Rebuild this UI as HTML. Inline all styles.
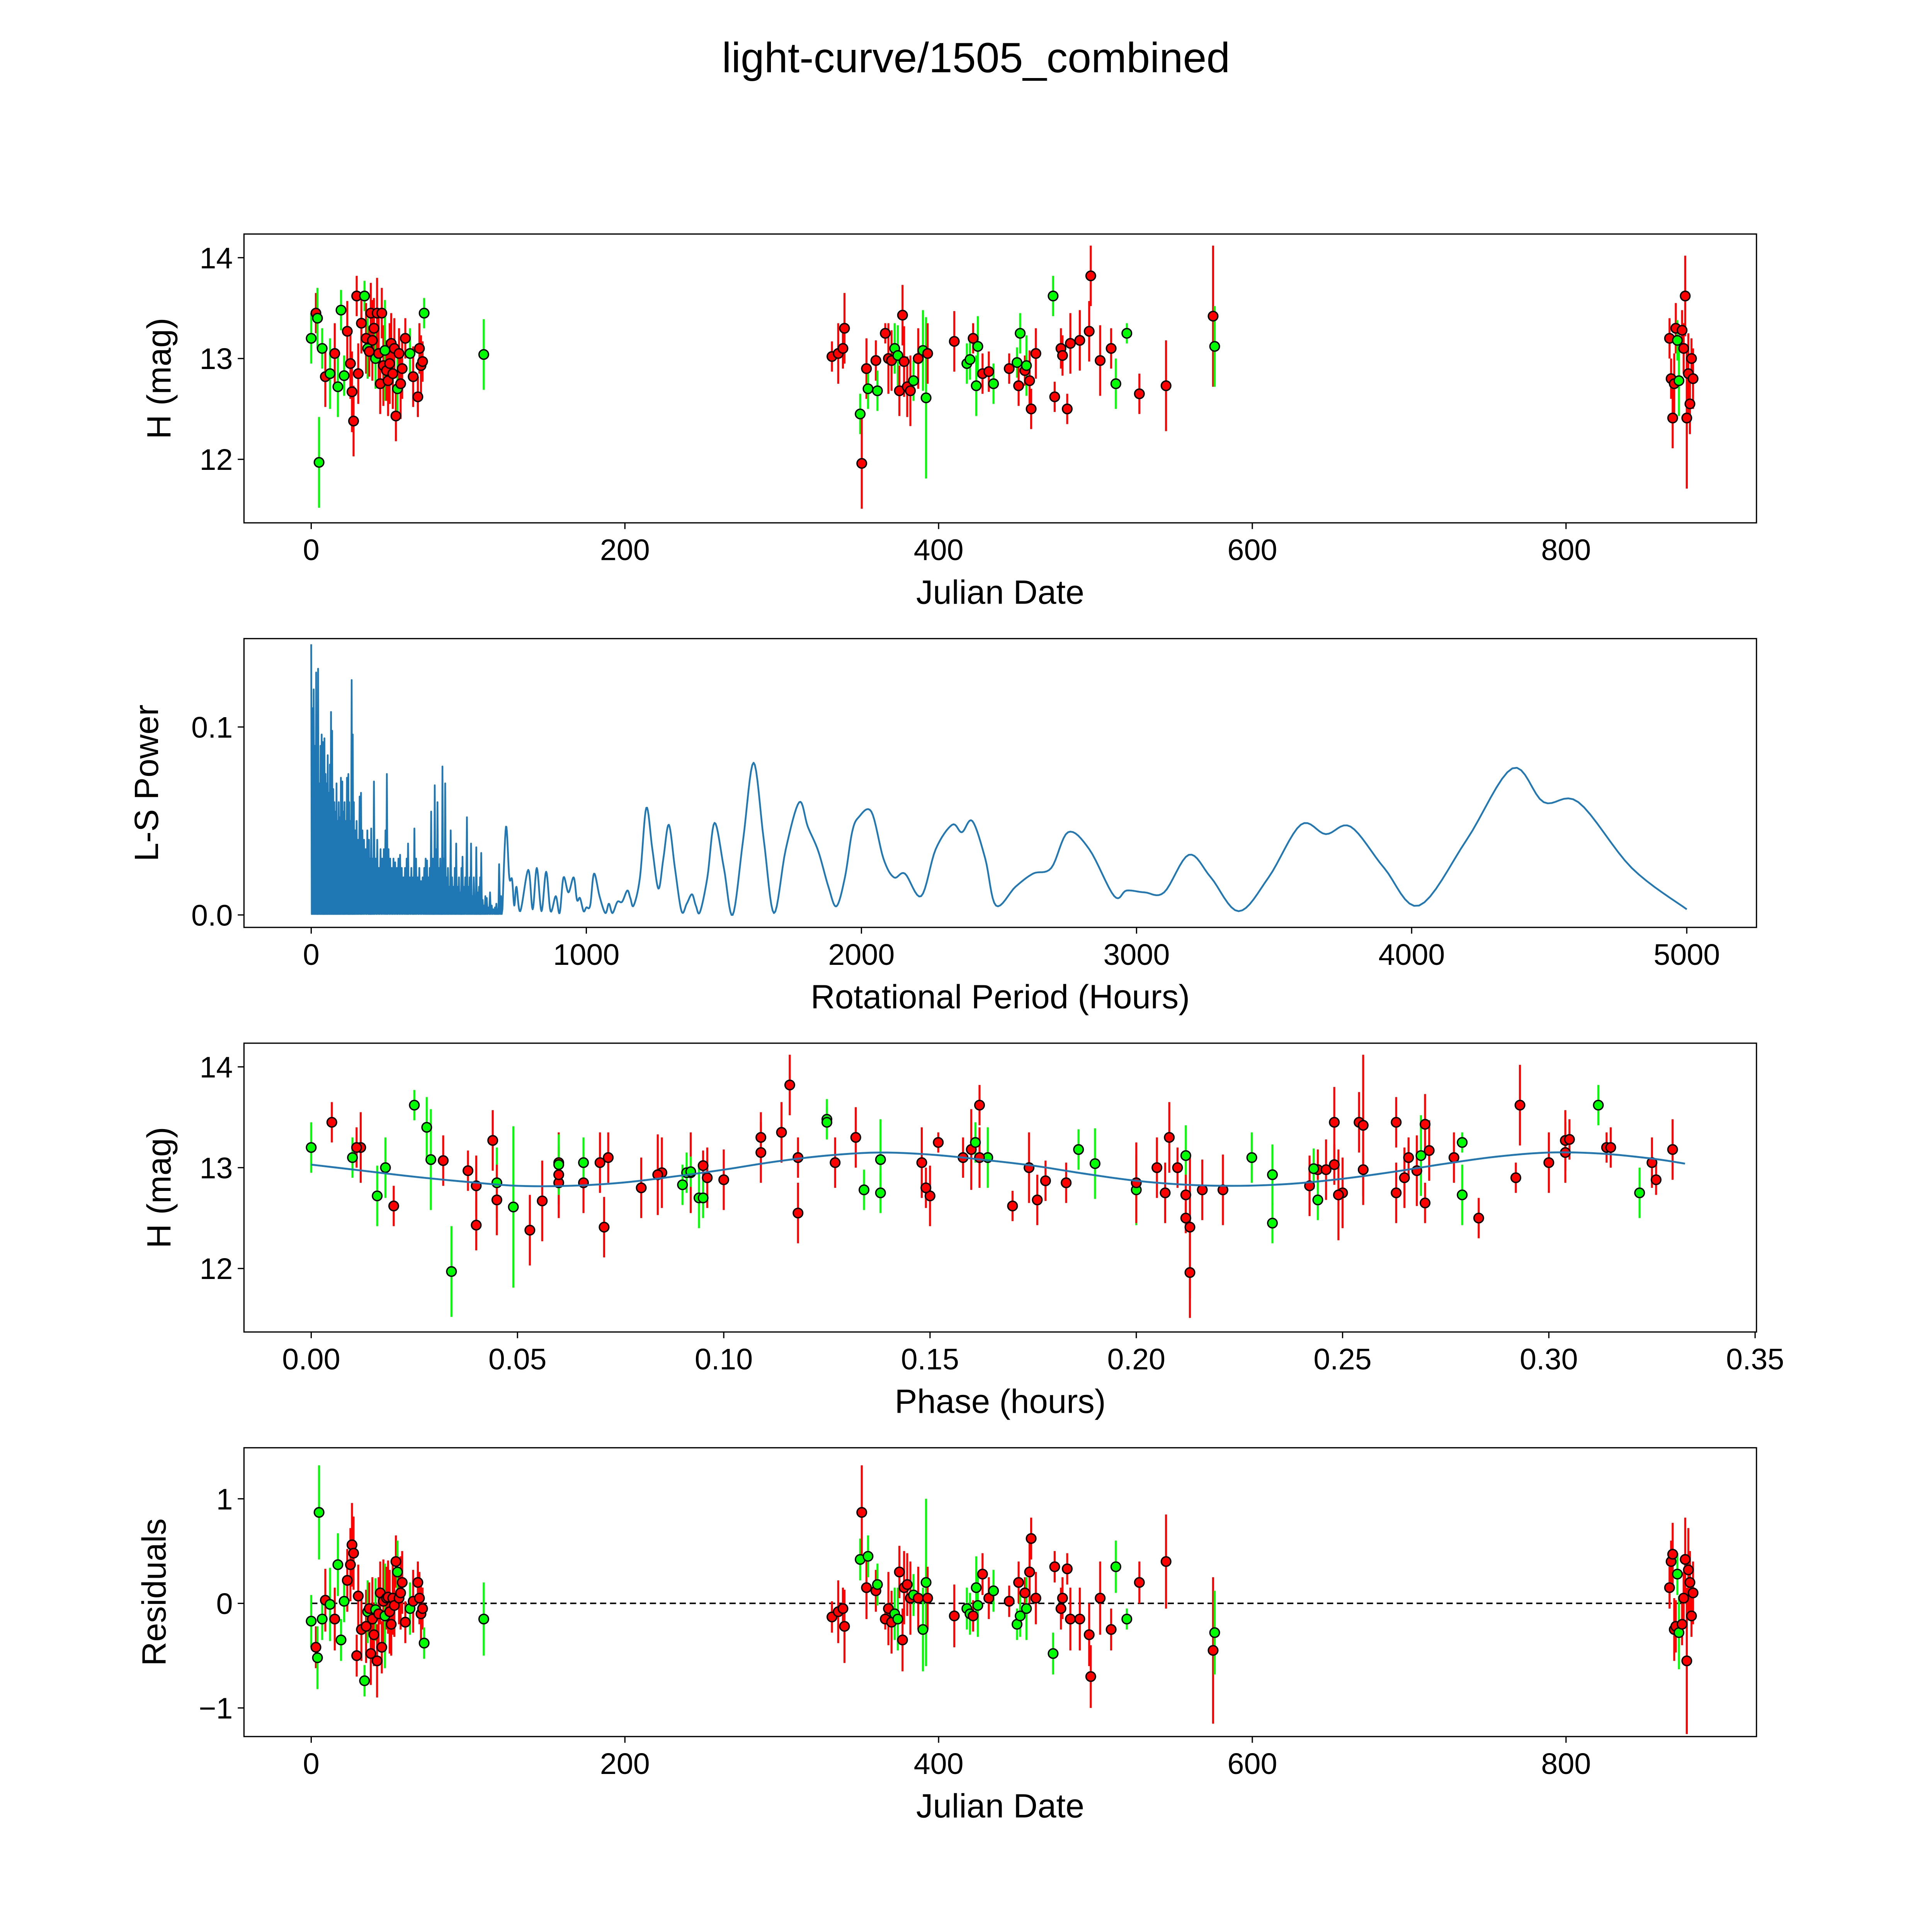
<!DOCTYPE html>
<html><head><meta charset="utf-8"><style>
html,body{margin:0;padding:0;background:#fff;overflow:hidden;width:100%;height:100%}
svg{display:block;width:100vw;height:100vh}
text{font-family:"Liberation Sans","DejaVu Sans",sans-serif;fill:#000}
</style></head><body>
<svg id="fig" xmlns="http://www.w3.org/2000/svg" viewBox="0 0 1552 1552" preserveAspectRatio="none">
<rect x="0" y="0" width="1552" height="1552" fill="#fff"/>
<text x="784" y="58" font-size="34" text-anchor="middle">light-curve/1505_combined</text>
</svg>
<script>
// ---- observation data ----
const obsDate = [0,3,4,5,7,9,12,15,17,19, 21,23,25,26,27,29,30,32,34,35, 36,37,38,39,40,41,42,43,44,45, 46,47,48,49,50,51,52,53,54,55,
56,57,58,60,63,65,68,69,70,71, 72,110,332,336,339,340,350,351,354,355, 360,361,366,368,370,372,374,375,377,378, 380,382,384,387,390,392,393,410,418,420,
422,424,425,428,432,435,445,450,451,452, 455,456,458,459,462,473,474,478,479,482, 484,490,496,497,503,510,513,520,528,545, 575,576,866,867,868,869,870,871,872,874, 875,876,877,878,879,880,881];
const obsMag = [13.2,13.45,13.4,11.97,13.1,12.82,12.85,13.05,12.72,13.48, 12.83,13.27,12.95,12.67,12.38,13.62,12.85,13.35,13.62,13.2, 13.1,13.07,13.45,13.18,13.3,13.0,13.45,13.05,12.75,13.45, 12.93,13.08,12.88,12.78,12.95,13.15,12.85,13.1,12.43,12.7,
13.05,12.75,12.9,13.2,13.05,12.82,12.62,13.1,12.93,12.97, 13.45,13.04,13.02,13.05,13.1,13.3,12.45,11.96,12.9,12.7, 12.98,12.68,13.25,13.0,12.98,13.1,13.03,12.68,13.43,12.97, 12.72,12.68,12.78,13.0,13.08,12.61,13.05,13.17,12.95,12.99,
13.2,12.73,13.12,12.85,12.87,12.75,12.9,12.96,12.73,13.25, 12.88,12.93,12.78,12.5,13.05,13.62,12.62,13.1,13.03,12.5, 13.15,13.18,13.27,13.82,12.98,13.1,12.75,13.25,12.65,12.73, 13.42,13.12,13.2,12.8,12.41,12.75,13.3,13.18,12.78,13.28, 13.1,13.62,12.41,12.85,12.55,13.0,12.8];
const obsErr = [.25,.2,.3,.45,.2,.3,.35,.3,.3,.2, .2,.3,.35,.4,.35,.2,.3,.3,.15,.35, .3,.25,.3,.4,.3,.3,.35,.35,.3,.25, .4,.5,.3,.35,.4,.3,.35,.3,.25,.3,
.25,.35,.3,.2,.25,.3,.2,.25,.3,.2, .15,.35,.15,.3,.2,.35,.2,.45,.3,.2, .2,.2,.1,.35,.3,.25,.3,.25,.3,.35, .3,.35,.2,.3,.4,.8,.3,.3,.2,.2,
.15,.3,.3,.2,.2,.2,.15,.15,.2,.2, .15,.3,.3,.2,.25,.2,.15,.2,.2,.15, .3,.3,.3,.3,.35,.2,.25,.1,.2,.45, .7,.4,.2,.2,.3,.3,.25,.2,.35,.2, .25,.4,.7,.4,.3,.2,.3];
const obsBand = ("grgggrgrgg"+"grrrrrrrgr"+"grrrrgrrrr"+"rgrrrrrrrg"+"rrrrgrrrrr"+"ggrrrrgrrg"+"rgrrrggrrr"+"rrgrggrrgg"+"rggrrgrgrg"+"rgrrrgrrrr"+"rrrrrrggrr"+"rgrrrrrggr"+"rrrrrrr").split("");
const obsPhase = [.000,.005,.028,.034,.010,.040,.045,.060,.016,.125, .090,.044,.085,.056,.053,.162,.066,.114,.025,.012, .164,.032,.254,.160,.132,.018,.248,.148,.207,.263, .084,.029,.100,.221,.092,.109,.060,.162,.040,.094,
.127,.250,.096,.011,.066,.242,.020,.072,.060,.038, .125,.190,.095,.070,.266,.208,.233,.213,.265,.095, .244,.244,.152,.174,.246,.228,.060,.176,.270,.268, .150,.045,.134,.205,.138,.049,.300,.271,.091,.243,
.314,.279,.212,.183,.178,.138,.292,.092,.212,.161, .326,.233,.216,.283,.325,.312,.170,.118,.248,.212, .304,.330,.304,.116,.255,.158,.322,.279,.270,.249, .255,.269,.315,.149,.071,.263,.109,.186,.200,.305, .277,.293,.213,.200,.118,.210,.080];
const obsResid = [-.17,-.42,-.52,.87,-.15,.03,-.01,-.15,.37,-.35, .02,.22,.37,.56,.48,-.5,.07,-.25,-.74,-.22, -.08,-.05,-.48,-.15,-.3,-.06,-.55,-.1,.1,-.42, .02,-.12,.05,.06,-.08,-.2,.05,-.02,.4,.3,
.05,.1,.2,-.18,-.05,.02,.2,.05,-.1,-.05, -.38,-.15,-.13,-.08,-.05,-.22,.42,.87,.15,.45, .12,.18,-.15,-.05,-.18,-.1,-.15,.3,-.35,.15, .18,.05,.08,.05,-.25,.2,.05,-.12,-.05,-.1,
-.12,.15,-.02,.28,.05,.12,.02,-.2,.2,-.12, .1,-.05,.3,.62,.05,-.48,.35,-.05,.05,.33, -.15,-.15,-.3,-.7,.05,-.25,.35,-.15,.2,.4, -.45,-.28,.15,.4,.47,-.25,-.22,.28,-.28,-.2, .05,.42,-.55,.32,.2,-.12,.1];

// ---- periodogram data ----
const spikePeriod = [0,4,9,13,18,22,25,30,34,38, 42,45,48,52,56,60,64,68,72,76, 80,84,88,92,96,100,104,108,113,117, 121,125,130,135,138,142,147,151,155,160,
165,170,176,181,186,192,198,204,210,214, 218,223,228,234,240,246,252,258,264,270, 275,281,287,293,299,305,311,317,323,329, 335,341,347,352,358,364,370,375,381,387,
393,399,405,411,416,421,426,431,436,441, 445,449,454,459,464,469,473,477,482,487, 492,497,502,507,512,517,522,527,532,537, 542,546,550,555,560,566,571,576,581,586,
591,596,600,605,610,614,618,623,628,633, 638,644,650,656,662,668,673,678,683,690];
const spikePower = [.144,.11,.12,.09,.129,.085,.131,.07,.09,.096, .092,.08,.094,.075,.07,.085,.065,.08,.108,.098, .067,.06,.055,.07,.05,.06,.052,.073,.071,.055, .06,.05,.073,.075,.06,.05,.125,.096,.06,.045,
.05,.04,.063,.065,.045,.04,.035,.045,.04,.03, .046,.03,.071,.03,.04,.025,.035,.03,.035,.045, .075,.035,.03,.025,.03,.028,.025,.03,.032,.025, .02,.025,.03,.038,.02,.025,.02,.046,.03,.02,
.025,.018,.02,.025,.03,.029,.02,.025,.055,.03, .03,.069,.035,.06,.025,.03,.02,.079,.03,.07, .02,.025,.015,.045,.02,.015,.025,.038,.015,.02, .012,.025,.031,.015,.02,.052,.015,.02,.038,.01,
.02,.01,.036,.012,.015,.02,.033,.008,.005,.01, .009,.004,.012,.005,.003,.004,.006,.003,.027,.01];
const smoothPeriod = [695,708,720,730,738,746,760,789,805,820, 837,854,870,889,903,917,935,954,966,977, 990,1000,1014,1028,1048,1069,1082,1095,1113,1130, 1149,1160,1172,1195,1218,1240,1262,1280,1300,1322,
1346,1365,1384,1398,1413,1440,1466,1500,1532,1570, 1608,1645,1682,1725,1774,1805,1843,1880,1909,1940, 1966,1990,2036,2080,2118,2158,2217,2270,2330,2365, 2403,2450,2489,2560,2624,2690,2751,2828,2919,2964,
3030,3100,3190,3270,3371,3480,3597,3688,3778,3900, 4027,4200,4366,4480,4606,4800,5000];
const smoothPower = [.003,.047,.02,.019,.005,.015,.002,.024,.003,.025, .002,.023,.002,.01,.001,.02,.012,.02,.008,.009, .002,.004,.005,.022,.01,.001,.006,.001,.007,.007, .013,.009,.005,.02,.057,.035,.014,.03,.048,.025,
.002,.006,.011,.005,.0015,.02,.049,.025,0,.04, .081,.04,.001,.035,.06,.047,.034,.015,.0046,.02, .044,.052,.055,.03,.02,.022,.01,.035,.048,.044, .05,.03,.005,.015,.022,.025,.044,.035,.01,.013,
.012,.012,.032,.02,.002,.02,.048,.043,.047,.025, .005,.04,.078,.06,.06,.025,.003];

// ---- fit curve ----
const fitPhase = [0,.0125,.025,.0375,.05,.0625,.075,.0875,.1,.1125,.125,.1375,.15,.1625,.175,.1875,.2,.2125,.225,.2375,.25,.2625,.275,.2875,.3,.3125,.325,.333];
const fitMag = [13.03,12.97,12.91,12.86,12.82,12.82,12.85,12.91,12.98,13.06,13.12,13.15,13.13,13.08,13.02,12.94,12.87,12.83,12.82,12.84,12.89,12.96,13.04,13.11,13.15,13.14,13.09,13.04];

// ---- tick labels ----
const dateTicks = [0,200,400,600,800];
const magTicks = [14,13,12];
const periodTicks = [0,1000,2000,3000,4000,5000];
const powerTicks = [0.0,0.1];
const phaseTicks = [0,0.05,0.1,0.15,0.2,0.25,0.3,0.35];
const residTicks = [1,0,-1];

const NS="http://www.w3.org/2000/svg";
const svg=document.getElementById('fig');
function el(tag,attrs,parent){const e=document.createElementNS(NS,tag);for(const k in attrs)e.setAttribute(k,attrs[k]);(parent||svg).appendChild(e);return e;}
function txt(s,attrs,parent){const e=el('text',attrs,parent);e.textContent=s;return e;}

const L=196,R=1411;
const panels=[{t:188,b:420},{t:513,b:745},{t:838,b:1070},{t:1163,b:1395}];
const xDate=d=>250+d*1.26;
const xPer=p=>250+p*0.221;
const xPh=ph=>250+ph*3314;
const yMag1=m=>288-(m-13)*81;
const yMag3=m=>938-(m-13)*81;
const yPow=v=>735-v*1510;
const yRes=r=>1288-r*84;

function frame(i,name){
  const g=el('g',{});
  
  
  return g;
}
function border(g,i){
  const p=panels[i];
  const r=el('rect',{x:L,y:p.t,width:R-L,height:p.b-p.t,fill:'none',stroke:'#000','stroke-width':1},g);
  
  
}
function xticks(g,i,vals,fx,fmt){
  const p=panels[i];
  vals.forEach(v=>{
    const x=fx(v);
    el('line',{x1:x,x2:x,y1:p.b,y2:p.b+5,stroke:'#000','stroke-width':1},g);
    const t=txt(fmt(v),{x:x,y:p.b+30,'font-size':24,'text-anchor':'middle'},g);
    
    
  });
}
function yticks(g,i,vals,fy,fmt){
  vals.forEach(v=>{
    const y=fy(v);
    el('line',{x1:L-5,x2:L,y1:y,y2:y,stroke:'#000','stroke-width':1},g);
    const t=txt(fmt(v),{x:L-9,y:y+8.5,'font-size':24,'text-anchor':'end'},g);
    
    
  });
}
function labels(g,i,xl,yl,yx){
  const p=panels[i];
  const a=txt(xl,{x:(L+R)/2,y:p.b+65,'font-size':27,'text-anchor':'middle'},g);
  
  
  const cy=(p.t+p.b)/2;
  const b=txt(yl,{x:yx,y:cy,'font-size':27,'text-anchor':'middle',transform:`rotate(-90 ${yx} ${cy})`},g);
  
  
}
const col=b=>b==='g'?'#00ff00':'#ff0000';
function points(g,xs,ys,errs,fx,fy){
  const eg=el('g',{},g);
  xs.forEach((xv,k)=>{
    const x=fx(xv);
    const ln=el('line',{x1:x,x2:x,y1:fy(ys[k]+errs[k]),y2:fy(ys[k]-errs[k]),stroke:col(obsBand[k]),'stroke-width':1.6},eg);
    
    
  });
  xs.forEach((xv,k)=>{
    const c=el('circle',{cx:fx(xv),cy:fy(ys[k]),r:3.8,fill:col(obsBand[k]),stroke:'#000','stroke-width':1.1},eg);
    
    
  });
}
function catmull(pts,steps){
  const out=[];
  for(let i=0;i<pts.length-1;i++){
    const p0=pts[Math.max(0,i-1)],p1=pts[i],p2=pts[i+1],p3=pts[Math.min(pts.length-1,i+2)];
    for(let s=0;s<steps;s++){
      const t=s/steps,t2=t*t,t3=t2*t;
      const f=(a,b,c,d)=>0.5*((2*b)+(-a+c)*t+(2*a-5*b+4*c-d)*t2+(-a+3*b-3*c+d)*t3);
      out.push([f(p0[0],p1[0],p2[0],p3[0]),f(p0[1],p1[1],p2[1],p3[1])]);
    }
  }
  out.push(pts[pts.length-1]);
  return out;
}

// Panel 1
let g=frame(0,'light-curve-panel');
border(g,0);
xticks(g,0,dateTicks,xDate,v=>String(v));
yticks(g,0,magTicks,yMag1,v=>String(v));
labels(g,0,'Julian Date','H (mag)',137);
points(g,obsDate,obsMag,obsErr,xDate,yMag1);

// Panel 2
g=frame(1,'periodogram-panel');
border(g,1);
xticks(g,1,periodTicks,xPer,v=>String(v));
yticks(g,1,powerTicks,yPow,v=>v.toFixed(1));
labels(g,1,'Rotational Period (Hours)','L-S Power',127);
{
  let d='';
  spikePeriod.forEach((p,k)=>{
    d+=(k===0?'M':'L')+xPer(p).toFixed(2)+' '+yPow(spikePower[k]).toFixed(2)+' ';
    const nx=k<spikePeriod.length-1?spikePeriod[k+1]:smoothPeriod[0];
    d+='L'+xPer((p+nx)/2).toFixed(2)+' '+yPow(0.0005).toFixed(2)+' ';
  });
  const sp=catmull(smoothPeriod.map((p,k)=>[p,smoothPower[k]]),8);
  sp.forEach(q=>{d+='L'+xPer(q[0]).toFixed(2)+' '+yPow(Math.max(0,q[1])).toFixed(2)+' ';});
  const path=el('path',{d:d,fill:'none',stroke:'#1f77b4','stroke-width':1.4,'stroke-linejoin':'round'},g);
  
  
}

// Panel 3
g=frame(2,'phase-folded-panel');
border(g,2);
xticks(g,2,phaseTicks,xPh,v=>v.toFixed(2));
yticks(g,2,magTicks,yMag3,v=>String(v));
labels(g,2,'Phase (hours)','H (mag)',137);
points(g,obsPhase,obsMag,obsErr,xPh,yMag3);
{
  const fp=catmull(fitPhase.map((p,k)=>[p,fitMag[k]]),6);
  let d='';
  fp.forEach((q,k)=>{d+=(k?'L':'M')+xPh(q[0]).toFixed(2)+' '+yMag3(q[1]).toFixed(2)+' ';});
  const path=el('path',{d:d,fill:'none',stroke:'#1f77b4','stroke-width':1.5},g);
  
  
}

// Panel 4
g=frame(3,'residuals-panel');
border(g,3);
xticks(g,3,dateTicks,xDate,v=>String(v));
yticks(g,3,residTicks,yRes,v=>v<0?'\u2212'+Math.abs(v):String(v));
labels(g,3,'Julian Date','Residuals',133);
{
  const zl=el('line',{x1:xDate(Math.min(...obsDate)),x2:xDate(Math.max(...obsDate)),y1:yRes(0),y2:yRes(0),stroke:'#000','stroke-width':1.2,'stroke-dasharray':'5 3'},g);
  
  
}
points(g,obsDate,obsResid,obsErr,xDate,yRes);
</script>
</body></html>
